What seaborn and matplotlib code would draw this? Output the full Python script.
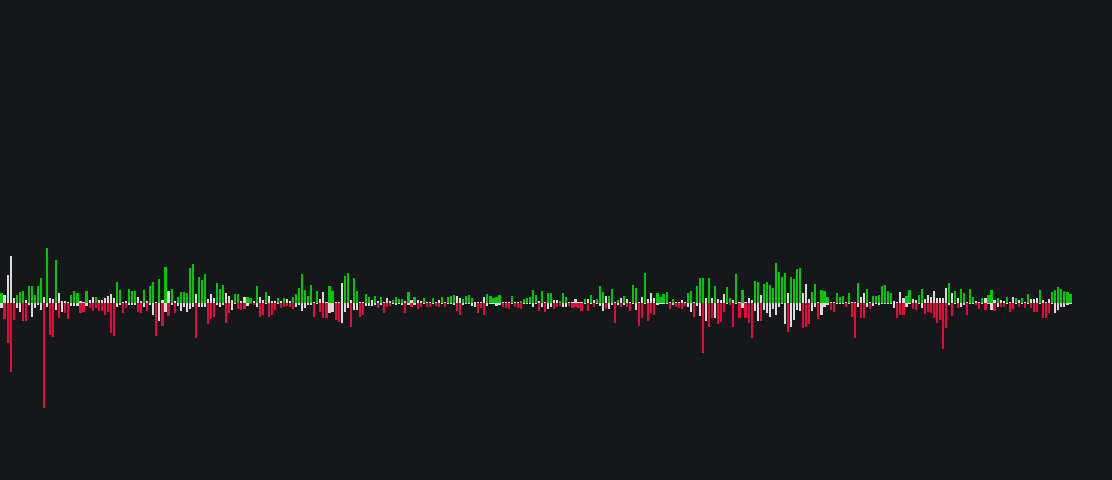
import numpy as np
import pandas as pd
import matplotlib
matplotlib.use("Agg")
import matplotlib.pyplot as plt
import seaborn as sns

# bar heights above the zero line (buy side) and below it (sell side)
up_vals = [
    10, 8, 28, 47, 5, 8, 11, 12, 3, 17, 17, 8, 17, 25, 6, 55, 5, 4, 43, 10, 2, 2, 1, 8, 12,
    10, 2, 1, 12, 3, 6, 6, 3, 3, 5, 7, 9, 5, 21, 13, 1, 2, 14, 12, 12, 6, 2,
    13, 2, 17, 21, 1, 24, 3, 36, 12, 14, 2, 6, 11, 11, 10, 35, 39, 9, 26, 23, 29, 4, 9, 5, 20,
    14, 18, 10, 7, 3, 9, 9, 2, 6, 6, 5, 2, 17, 6, 3, 11, 7, 2, 2, 5, 2,
    5, 4, 2, 6, 9, 15, 29, 13, 7, 18, 1, 12, 4, 11, 1, 17, 12, 1, 1, 20, 27, 30, 3, 25, 12,
    1, 1, 9, 6, 3, 7, 2, 6, 1, 5, 2, 3, 6, 4, 4, 2, 11, 3, 6, 3, 2,
    5, 1, 1, 5, 1, 3, 6, 1, 6, 7, 8, 7, 5, 4, 7, 8, 5, 1, 1, 1, 6, 9, 7, 5, 6,
    8, 1, 1, 1, 7, 1, 1, 2, 4, 5, 6, 13, 8, 2, 12, 1, 10, 10, 3, 3, 2,
    10, 6, 1, 1, 4, 1, 1, 4, 4, 8, 3, 4, 17, 11, 7, 7, 14, 1, 3, 5, 7, 4, 1, 18, 15,
    1, 6, 30, 4, 10, 5, 10, 6, 9, 11, 1, 4, 1, 1, 3, 1, 10, 12, 1, 17, 25,
    25, 5, 25, 5, 17, 4, 3, 9, 16, 5, 3, 29, 1, 13, 1, 5, 3, 22, 21, 8, 19, 21, 18, 15, 40,
    31, 26, 30, 10, 26, 24, 34, 35, 10, 19, 4, 11, 19, 1, 13, 12, 6, 1, 1, 10, 6,
    7, 1, 10, 1, 1, 20, 6, 10, 14, 1, 7, 7, 8, 17, 18, 12, 10, 2, 1, 11, 5, 7, 13, 4, 3,
    8, 14, 4, 8, 6, 12, 5, 5, 5, 15, 20, 10, 12, 5, 14, 10, 1, 14, 6, 2, 1,
    5, 5, 8, 13, 3, 5, 3, 2, 6, 1, 6, 5, 3, 5, 1, 9, 4, 4, 5, 13, 3, 1, 4, 11, 13,
    16, 14, 12, 11, 9,
]
down_vals = [
    5, 16, 40, 69, 17, 5, 9, 18, 18, 2, 14, 5, 2, 7, 105, 4, 32, 34, 7, 15, 9, 10, 16, 3, 3,
    3, 10, 9, 3, 5, 8, 5, 8, 8, 12, 9, 30, 33, 4, 2, 10, 5, 2, 2, 2, 9, 10,
    4, 8, 2, 12, 33, 18, 23, 9, 13, 2, 10, 3, 8, 4, 9, 6, 4, 35, 4, 4, 4, 21, 16, 14, 2,
    4, 2, 20, 10, 7, 1, 6, 7, 6, 3, 1, 2, 4, 14, 12, 1, 14, 12, 7, 1, 5,
    4, 3, 4, 6, 4, 2, 8, 5, 2, 2, 14, 1, 9, 15, 15, 10, 9, 17, 19, 20, 9, 5, 24, 7, 7,
    14, 12, 3, 3, 3, 2, 5, 2, 10, 4, 3, 1, 2, 1, 2, 10, 2, 4, 2, 6, 4,
    1, 4, 4, 1, 3, 4, 1, 4, 1, 1, 2, 8, 12, 2, 1, 1, 3, 4, 10, 5, 12, 3, 1, 1, 3,
    2, 4, 5, 6, 1, 4, 5, 6, 1, 1, 1, 4, 1, 8, 4, 9, 6, 4, 6, 4, 3,
    4, 4, 3, 5, 4, 5, 8, 1, 8, 1, 4, 1, 3, 8, 6, 6, 2, 20, 2, 4, 2, 4, 8, 1, 7,
    23, 15, 1, 18, 10, 12, 2, 1, 1, 1, 6, 2, 4, 5, 6, 3, 4, 9, 14, 3, 13,
    50, 18, 24, 15, 15, 21, 19, 9, 1, 2, 24, 1, 15, 5, 15, 20, 35, 8, 18, 18, 7, 10, 14, 6, 12,
    4, 1, 21, 29, 24, 17, 7, 8, 25, 24, 21, 8, 4, 16, 12, 4, 2, 7, 9, 1, 1,
    1, 4, 1, 14, 35, 4, 15, 15, 4, 6, 3, 1, 2, 1, 1, 1, 1, 5, 15, 12, 12, 4, 1, 6, 7,
    1, 5, 11, 9, 10, 15, 20, 17, 46, 25, 2, 13, 1, 5, 4, 2, 12, 1, 1, 2, 6,
    1, 7, 1, 7, 8, 4, 4, 4, 1, 9, 6, 1, 4, 1, 5, 1, 5, 9, 9, 1, 15, 15, 10, 1, 10,
    7, 4, 4, 2, 1,
]
# colour code per bar: g = green, r = red, w = white
up_kind = (
    "gwwww" "gggwg" "ggggw" "gwwgw" "wwwgg" "gwwgw" "wgwww" "wwwgg" "wwggg" "ww"
    "gwggw" "gwgwg" "wgggg" "ggwgg" "gwwwg" "ggwww" "ggwwg" "gwgww" "gwwwg" "w"
    "gwwgg" "ggggg" "wgwww" "ggwww" "ggwgg" "wwggw" "gwgww" "wgggg" "wgwgw" "w"
    "gwwgw" "wgwgg" "gwwgg" "ggwww" "wgggg" "gwwwg" "wwggg" "gggwg" "wggww" "g"
    "ggwww" "wwgwg" "wgggw" "ggwgw" "gwwgg" "wwgww" "wgggg" "wgwww" "wggwg" "g"
    "gwgwg" "wwwgg" "wgwgw" "wwggw" "ggggg" "gggwg" "gggww" "wggwg" "ggwwg" "g"
    "gwgww" "gwwgw" "ggggg" "ggwww" "wggww" "ggwww" "wwwww" "gwgwg" "gwggw" "w"
    "gwggw" "gwwgw" "wgwgw" "gwwwg" "wwwgg" "ggggg"
)
down_kind = (
    "wrrrr" "wwrrw" "wwwwr" "wrrwr" "wrrww" "wrrwr" "rrrrr" "rrrww" "rrwww" "rr"
    "wrwwr" "wrwrw" "rwwww" "wwrww" "wrrrw" "wwrrw" "wrrrw" "rrwrr" "wrrrw" "r"
    "rrrrw" "wwwww" "rwrrr" "wwrrw" "wwrww" "rrwww" "wrwrr" "rwwww" "rwrwr" "r"
    "wrrwr" "rwrww" "wrrww" "wwwrr" "rwwww" "wrrrw" "rrrww" "wwwrw" "rwwrr" "r"
    "wwrrr" "rrwrw" "rwwwr" "wwrwr" "wrrww" "rrwrr" "rwwww" "rwrrr" "rwwrw" "w"
    "rwrrw" "rrrwr" "rwrwr" "rrwwr" "wwwww" "wwwrw" "wwwrr" "rwwrw" "wwrrw" "w"
    "wrwrr" "wrrwr" "wwwww" "wwwrr" "rwwrr" "wwrrr" "rrrrr" "wrwrw" "wrwwr" "r"
    "wrwwr" "wrrwr" "rwrwr" "wrrrw" "rrrww" "wwwww"
)

bg = "#16171b"
palette = {"g": "#00c805", "r": "#e8083e", "w": "#dadada"}

idx = np.arange(len(up_vals))
up_df = pd.DataFrame({"i": idx, "v": up_vals, "c": list(up_kind)})
dn_df = pd.DataFrame({"i": idx, "v": [-v for v in down_vals], "c": list(down_kind)})

sns.set_theme(style="dark")
fig = plt.figure(figsize=(11.12, 4.8), dpi=100, facecolor=bg)
ax = fig.add_axes([0, 0, 1, 1])
ax.set_facecolor(bg)

for df in (up_df, dn_df):
    sns.barplot(data=df, x="i", y="v", order=list(idx), errorbar=None,
                saturation=1, width=0.7, linewidth=0, ax=ax)
    # colour each bar by its kind
    for bar, kind in zip(ax.containers[-1], df["c"]):
        bar.set_facecolor(palette[kind])

step = 1072 / len(up_vals)
ax.set_xlim(-0.5, 1112 / step - 0.5)
ax.set_ylim(-177, 303)
ax.set_axis_off()

fig.savefig("out.png", dpi=100, facecolor=bg)
